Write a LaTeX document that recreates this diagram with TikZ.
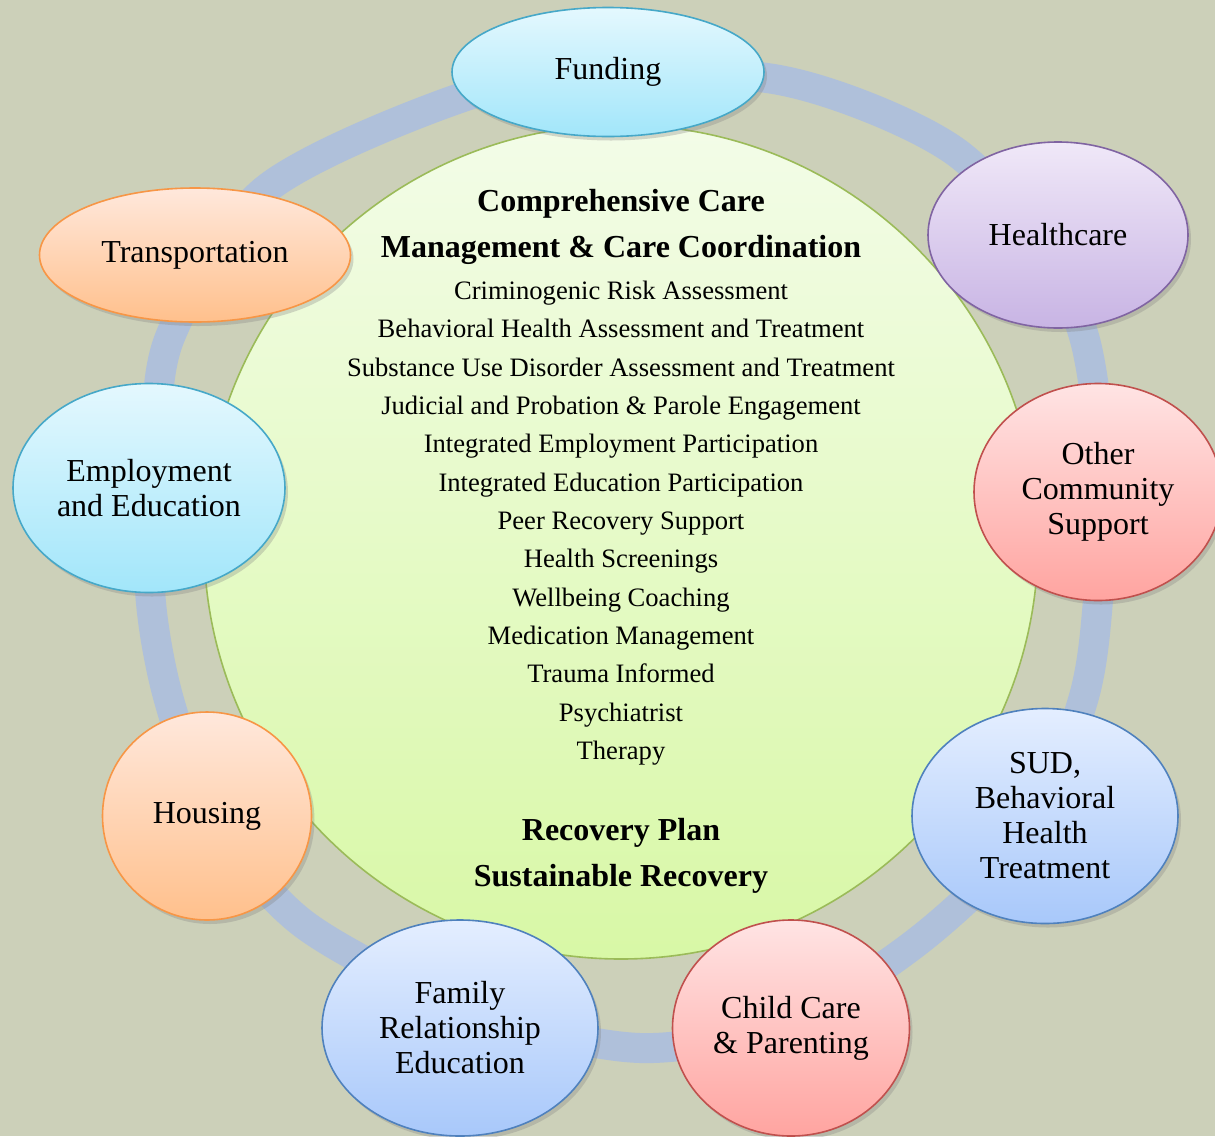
\documentclass[tikz,border=0pt]{standalone}
\usepackage{fontspec}
\setmainfont{Liberation Serif}
\usetikzlibrary{shapes.geometric,shadows}
\definecolor{bgcol}{HTML}{CCD0B9}
\definecolor{ringcol}{HTML}{AFC0DA}
\definecolor{hubline}{HTML}{9BBB59}
\definecolor{hubtop}{HTML}{F3FCE8}
\definecolor{hubbot}{HTML}{D8F8A6}
\definecolor{cyanline}{HTML}{46A8C8}
\definecolor{cyantop}{HTML}{E4F8FE}
\definecolor{cyanbot}{HTML}{A2E6FA}
\definecolor{purpline}{HTML}{8064A2}
\definecolor{purptop}{HTML}{F0E8F8}
\definecolor{purpbot}{HTML}{C8B4E4}
\definecolor{pinkline}{HTML}{C0504D}
\definecolor{pinktop}{HTML}{FFE4E4}
\definecolor{pinkbot}{HTML}{FFA4A0}
\definecolor{blueline}{HTML}{4F81BD}
\definecolor{bluetop}{HTML}{E4EEFF}
\definecolor{bluebot}{HTML}{A8C8FA}
\definecolor{orgline}{HTML}{F79646}
\definecolor{orgtop}{HTML}{FFE8DC}
\definecolor{orgbot}{HTML}{FFC08C}

\begin{document}
\begin{tikzpicture}[x=0.5pt,y=-0.5pt,
    bubble/.style={ellipse,inner sep=0pt,align=center,line width=0.8pt,
      font=\fontsize{16}{17.5}\selectfont,
      drop shadow={shadow xshift=1.5pt,shadow yshift=-2pt,opacity=0.3}},
    cyanbub/.style={bubble,draw=cyanline,top color=cyantop,bottom color=cyanbot},
    purpbub/.style={bubble,draw=purpline,top color=purptop,bottom color=purpbot},
    pinkbub/.style={bubble,draw=pinkline,top color=pinktop,bottom color=pinkbot},
    bluebub/.style={bubble,draw=blueline,top color=bluetop,bottom color=bluebot},
    orgbub/.style={bubble,draw=orgline,top color=orgtop,bottom color=orgbot},
    headtext/.style={align=center,font=\fontsize{16}{23}\selectfont\bfseries},
    listtext/.style={align=center,font=\fontsize{13.3}{19.17}\selectfont}]
  \useasboundingbox (0,0) rectangle (1215,1136);
  \fill[bgcol] (0,0) rectangle (1215,1136);
  \draw[ringcol,line width=15pt] plot[smooth cycle] coordinates {
      (767,78) (870,108) (960,155) (1040,240) (1085,340) (1102,470) (1098,600)
      (1083,700) (1030,830) (922,938) (790,1020) (640,1048) (470,1010) (305,925)
      (215,820) (169,700) (150,590) (155,460) (170,337) (265,190) (463,97) (610,72)};
  \node[circle,inner sep=0pt,minimum size=417pt,draw=hubline,line width=0.8pt,
        top color=hubtop,bottom color=hubbot] (hub) at (621,542) {};
  \node[headtext] (title) at (621,227) {Comprehensive Care\\Management \& Care Coordination};
  \node[listtext] (items) at (621,523) {Criminogenic Risk Assessment\\
      Behavioral Health Assessment and Treatment\\
      Substance Use Disorder Assessment and Treatment\\
      Judicial and Probation \& Parole Engagement\\
      Integrated Employment Participation\\
      Integrated Education Participation\\
      Peer Recovery Support\\
      Health Screenings\\
      Wellbeing Coaching\\
      Medication Management\\
      Trauma Informed\\
      Psychiatrist\\
      Therapy};
  \node[headtext] (plan) at (621,856) {Recovery Plan\\Sustainable Recovery};

  \node[cyanbub,minimum width=156pt,minimum height=64.5pt] (funding) at (608,72) {Funding};
  \node[purpbub,minimum width=130pt,minimum height=93pt] (health) at (1058,235) {Healthcare};
  \node[pinkbub,minimum width=124pt,minimum height=108.5pt] (other) at (1098,492) {Other\\Community\\Support};
  \node[bluebub,minimum width=133pt,minimum height=107.5pt] (sud) at (1045,816) {SUD,\\Behavioral\\Health\\Treatment};
  \node[pinkbub,minimum width=118.5pt,minimum height=108pt] (child) at (791,1028) {Child Care\\\& Parenting};
  \node[bluebub,minimum width=138pt,minimum height=108pt] (family) at (460,1028) {Family\\Relationship\\Education};
  \node[orgbub,minimum width=104.5pt,minimum height=104pt] (housing) at (207,816) {Housing};
  \node[cyanbub,minimum width=136pt,minimum height=104.5pt] (employ) at (149,488) {Employment\\and Education};
  \node[orgbub,minimum width=155.5pt,minimum height=67pt] (transport) at (195,255) {Transportation};
\end{tikzpicture}
\end{document}
